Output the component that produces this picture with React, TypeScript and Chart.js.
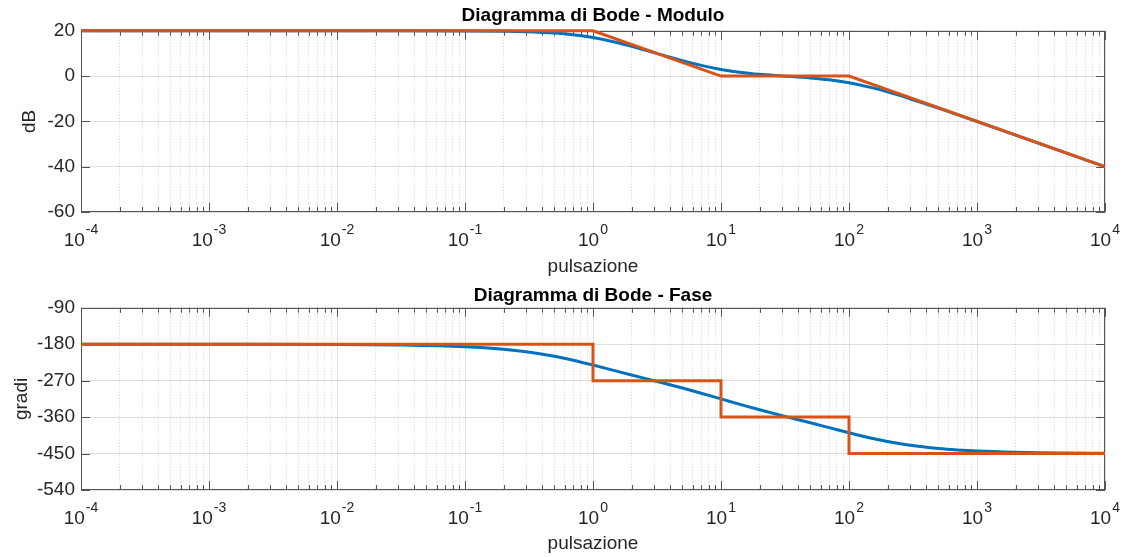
import React, { useEffect, useRef } from "react";
import { Chart, registerables } from "chart.js";

Chart.register(...registerables);

// ---------- data ----------
const omega = [
  1e-4, 1e-3, 1e-2, 0.03, 0.1, 0.2, 0.3, 0.5, 0.7, 1, 1.5, 2, 3, 5, 7, 10, 15, 20, 30, 50, 70,
  100, 150, 200, 300, 500, 700, 1000, 2000, 3000, 5000, 10000,
];
const magnitudeDb = [
  20, 20, 20, 20, 19.96, 19.83, 19.63, 19.04, 18.29, 17.03, 14.98, 13.18, 10.37, 6.82, 4.72, 2.93,
  1.48, 0.79, 0.08, -0.8, -1.64, -2.97, -5.1, -6.98, -10.0, -14.15, -16.99, -20.04, -26.03, -29.55,
  -33.98, -40.0,
];
const phaseDeg = [
  -180.0, -180.1, -180.6, -181.9, -186.3, -192.6, -198.6, -209.7, -219.4, -231.3, -245.7, -255.9,
  -270.0, -288.1, -300.9, -315.0, -331.0, -341.9, -356.4, -374.1, -386.0, -398.7, -412.1, -420.3,
  -429.5, -437.4, -441.0, -443.7, -446.8, -447.9, -448.7, -449.4,
];

const magAsymOmega = [1e-4, 1, 10, 100, 1e4];
const magAsymDb = [20, 20, 0, 0, -40];

const phaseAsymOmega = [1e-4, 1, 1, 10, 10, 100, 100, 1e4];
const phaseAsymDeg = [-180, -180, -270, -270, -360, -360, -450, -450];

const decadeTicks = [1e-4, 1e-3, 1e-2, 1e-1, 1, 10, 100, 1000, 10000];
const decadeBase = "10";
const decadeExponents = ["-4", "-3", "-2", "-1", "0", "1", "2", "3", "4"];
const minorMultipliers = [2, 3, 4, 5, 6, 7, 8, 9];

const magYTicks = [-60, -40, -20, 0, 20];
const phaseYTicks = [-540, -450, -360, -270, -180, -90];

const titleMag = "Diagramma di Bode - Modulo";
const titlePhase = "Diagramma di Bode - Fase";
const xTitle = "pulsazione";
const yTitleMag = "dB";
const yTitlePhase = "gradi";

// ---------- styles ----------
const FONT = "'Liberation Sans', Arial, Helvetica, sans-serif";
const BLUE = "#0072BD";
const ORANGE = "#D95319";
const TEXT = "#262626";
const AXIS = "#555555";
const GRID_MAJOR = "rgba(38,38,38,0.15)";
const GRID_MINOR = "rgba(38,38,38,0.2)";

const minorTicks: number[] = [];
decadeTicks.slice(0, -1).forEach((d) => minorMultipliers.forEach((m) => minorTicks.push(d * m)));

const frame = {
  id: "matlabFrame",
  beforeDatasetsDraw(chart: any) {
    const { ctx, chartArea: a, scales } = chart;
    const x = scales.x;
    const y = scales.y;
    ctx.save();
    ctx.strokeStyle = AXIS;
    ctx.lineWidth = 1;
    ctx.beginPath();
    const xt = (v: number, len: number) => {
      const px = Math.round(x.getPixelForValue(v)) + 0.5;
      ctx.moveTo(px, a.bottom);
      ctx.lineTo(px, a.bottom - len);
      ctx.moveTo(px, a.top);
      ctx.lineTo(px, a.top + len);
    };
    decadeTicks.forEach((v) => xt(v, 9));
    minorTicks.forEach((v) => xt(v, 5));
    y.ticks.forEach((t: any) => {
      const py = Math.round(y.getPixelForValue(t.value)) + 0.5;
      ctx.moveTo(a.left, py);
      ctx.lineTo(a.left + 9, py);
      ctx.moveTo(a.right, py);
      ctx.lineTo(a.right - 9, py);
    });
    ctx.stroke();
    ctx.strokeRect(
      Math.round(a.left) + 0.5,
      Math.round(a.top) + 0.5,
      Math.round(a.right - a.left) - 1,
      Math.round(a.bottom - a.top) - 1
    );
    ctx.restore();
  },
  afterDraw(chart: any) {
    // decade labels with raised exponents (10^n), placed with the x scale
    const { ctx, chartArea: a, scales } = chart;
    const x = scales.x;
    ctx.save();
    ctx.fillStyle = TEXT;
    ctx.textBaseline = "alphabetic";
    ctx.textAlign = "left";
    const baseFont = `19px ${FONT}`;
    const expFont = `14px ${FONT}`;
    decadeTicks.forEach((v, i) => {
      const px = x.getPixelForValue(v);
      ctx.font = baseFont;
      const wb = ctx.measureText(decadeBase).width;
      ctx.font = expFont;
      const we = ctx.measureText(decadeExponents[i]).width;
      const start = px - (wb + we + 1) / 2;
      ctx.font = baseFont;
      ctx.fillText(decadeBase, start, a.bottom + 34);
      ctx.font = expFont;
      ctx.fillText(decadeExponents[i], start + wb + 1, a.bottom + 22);
    });
    ctx.restore();
  },
};

function makeConfig(opts: {
  title: string;
  titlePad: { top: number; bottom: number };
  yTitle: string;
  yTitlePad: number;
  yTicks: number[];
  xAxisHeight: number;
  curveY: number[];
  asymX: number[];
  asymY: number[];
}): any {
  return {
    type: "line",
    data: {
      datasets: [
        {
          label: "asintotico",
          data: opts.asymX.map((x, i) => ({ x, y: opts.asymY[i] })),
          borderColor: ORANGE,
          borderWidth: 3,
          pointRadius: 0,
          tension: 0,
          clip: 4,
          order: 0,
          xAxisID: "x",
          yAxisID: "y",
        },
        {
          label: "reale",
          data: omega.map((x, i) => ({ x, y: opts.curveY[i] })),
          borderColor: BLUE,
          borderWidth: 3,
          pointRadius: 0,
          cubicInterpolationMode: "monotone",
          clip: 4,
          order: 1,
          xAxisID: "x",
          yAxisID: "y",
        },
      ],
    },
    options: {
      responsive: false,
      animation: false,
      devicePixelRatio: 1,
      layout: { padding: { left: 0, right: 22, top: 0, bottom: 0 } },
      plugins: {
        legend: { display: false },
        tooltip: { enabled: false },
        title: {
          display: true,
          text: opts.title,
          fullSize: false,
          color: "#000000",
          font: { family: FONT, size: 19, weight: "bold", lineHeight: 1.2 },
          padding: opts.titlePad,
        },
      },
      scales: {
        x: {
          type: "logarithmic",
          position: "bottom",
          min: decadeTicks[0],
          max: decadeTicks[decadeTicks.length - 1],
          afterBuildTicks: (s: any) => {
            s.ticks = decadeTicks.map((v) => ({ value: v, major: true }));
          },
          afterFit: (s: any) => {
            s.height = opts.xAxisHeight;
          },
          ticks: { display: false, autoSkip: false, maxRotation: 0 },
          grid: { color: GRID_MAJOR, lineWidth: 1, drawTicks: false },
          border: { display: false },
          title: {
            display: true,
            text: xTitle,
            color: TEXT,
            font: { family: FONT, size: 19 },
            padding: { top: 0, bottom: 2 },
          },
        },
        xm: {
          type: "logarithmic",
          position: "bottom",
          min: decadeTicks[0],
          max: decadeTicks[decadeTicks.length - 1],
          afterBuildTicks: (s: any) => {
            s.ticks = minorTicks.map((v) => ({ value: v }));
          },
          afterFit: (s: any) => {
            s.height = 0;
          },
          ticks: { display: false },
          grid: { color: GRID_MINOR, lineWidth: 1, drawTicks: false },
          border: { display: false, dash: [1, 2] },
        },
        y: {
          type: "linear",
          position: "left",
          min: opts.yTicks[0],
          max: opts.yTicks[opts.yTicks.length - 1],
          afterBuildTicks: (s: any) => {
            s.ticks = opts.yTicks.map((v) => ({ value: v }));
          },
          afterFit: (s: any) => {
            s.width = 81;
          },
          ticks: {
            padding: 6,
            color: TEXT,
            font: { family: FONT, size: 19 },
          },
          grid: { color: GRID_MAJOR, lineWidth: 1, drawTicks: false },
          border: { display: false },
          title: {
            display: true,
            text: opts.yTitle,
            color: TEXT,
            font: { family: FONT, size: 19 },
            padding: { top: opts.yTitlePad, bottom: 0 },
          },
        },
      },
    },
    plugins: [frame],
  };
}

function Plot(props: { config: any; width: number; height: number; top: number }) {
  const ref = useRef<HTMLCanvasElement | null>(null);
  useEffect(() => {
    if (!ref.current) return;
    const chart = new Chart(ref.current, props.config);
    return () => chart.destroy();
  }, []);
  return (
    <canvas
      ref={ref}
      width={props.width}
      height={props.height}
      style={{ position: "absolute", left: 0, top: props.top, width: props.width, height: props.height, display: "block" }}
    />
  );
}

export default function App() {
  const magConfig = makeConfig({
    title: titleMag,
    titlePad: { top: 4, bottom: 4 },
    yTitle: yTitleMag,
    yTitlePad: 18,
    yTicks: magYTicks,
    xAxisHeight: 68,
    curveY: magnitudeDb,
    asymX: magAsymOmega,
    asymY: magAsymDb,
  });
  const phaseConfig = makeConfig({
    title: titlePhase,
    titlePad: { top: 4, bottom: 1 },
    yTitle: yTitlePhase,
    yTitlePad: 10,
    yTicks: phaseYTicks,
    xAxisHeight: 67,
    curveY: phaseDeg,
    asymX: phaseAsymOmega,
    asymY: phaseAsymDeg,
  });
  return (
    <div style={{ position: "fixed", left: 0, top: 0, width: 1127, height: 557, background: "#ffffff", overflow: "hidden" }}>
      <Plot config={magConfig} width={1127} height={280} top={0} />
      <Plot config={phaseConfig} width={1127} height={277} top={280} />
    </div>
  );
}
